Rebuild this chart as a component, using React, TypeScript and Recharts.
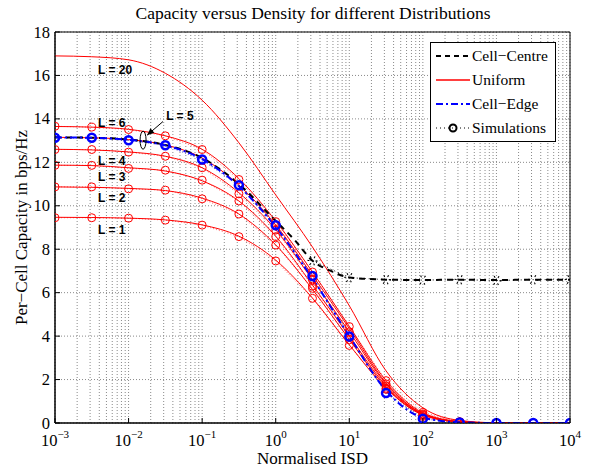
import React from 'react';
import {
  LineChart,
  Line,
  XAxis,
  YAxis,
  CartesianGrid,
  ReferenceDot,
  ReferenceLine,
  ReferenceArea,
  Legend,
} from 'recharts';

// ---------- data ----------
const isd = [0.001, 0.00316, 0.01, 0.0316, 0.1, 0.316, 1, 3.16, 10, 31.6, 100, 316, 1000, 3162, 10000];

// Uniform distribution (theory), per L
const capL1 = [9.47, 9.46, 9.43, 9.35, 9.12, 8.6, 7.5, 5.75, 3.6, 1.6, 0.37, 0.05, 0.0, 0, 0];
const capL2 = [10.87, 10.85, 10.8, 10.7, 10.35, 9.62, 8.2, 6.15, 3.85, 1.65, 0.38, 0.05, 0, 0, 0];
const capL3 = [11.87, 11.85, 11.75, 11.6, 11.15, 10.22, 8.6, 6.35, 4.0, 1.72, 0.4, 0.05, 0, 0, 0];
const capL4 = [12.6, 12.57, 12.48, 12.28, 11.75, 10.6, 8.9, 6.6, 4.2, 1.8, 0.42, 0.06, 0, 0, 0];
const capL5 = [13.15, 13.13, 13.05, 12.8, 12.2, 10.95, 9.12, 6.8, 4.35, 1.85, 0.43, 0.06, 0, 0, 0];
const capL6 = [13.65, 13.62, 13.52, 13.22, 12.6, 11.25, 9.3, 6.95, 4.45, 1.95, 0.47, 0.07, 0, 0, 0];
const capL20 = [16.9, 16.86, 16.72, 16.1, 14.86, 12.9, 10.5, 8.1, 5.4, 2.4, 0.7, 0.12, 0.01, 0, 0];

// Cell-Edge (theory)
const capEdge = [13.15, 13.13, 13.04, 12.78, 12.15, 10.9, 9.02, 6.65, 4.0, 1.5, 0.25, 0.03, 0, 0, 0];

// Cell-Centre (theory)
const centreIsd = [0.001, 0.00316, 0.01, 0.0316, 0.1, 0.316, 1, 1.78, 3.16, 5.62, 10, 31.6, 100, 316, 1000, 3162, 10000];
const capCentre = [13.15, 13.13, 13.05, 12.8, 12.2, 11.0, 9.3, 8.45, 7.47, 7.0, 6.7, 6.6, 6.58, 6.6, 6.58, 6.6, 6.6];

// Simulations
const simL1 = [9.45, 9.45, 9.43, 9.34, 9.11, 8.58, 7.46, 5.74, 3.57, 1.55, 0.3, 0.03, 0, 0, 0];
const simL2 = [10.87, 10.87, 10.78, 10.72, 10.32, 9.62, 8.19, 6.2, 3.83, 1.6, 0.35, 0.04, 0, 0, 0];
const simL3 = [11.86, 11.86, 11.72, 11.64, 11.18, 10.22, 8.58, 6.3, 3.98, 1.7, 0.38, 0.04, 0, 0, 0];
const simL4 = [12.59, 12.59, 12.47, 12.28, 11.75, 10.55, 8.88, 6.59, 4.2, 1.8, 0.42, 0.05, 0, 0, 0];
const simL6 = [13.66, 13.62, 13.51, 13.22, 12.59, 11.21, 9.27, 6.95, 4.44, 1.95, 0.49, 0.06, 0, 0, 0];
const simEdge = [13.13, 13.13, 13.02, 12.79, 12.13, 10.95, 9.1, 6.77, 3.98, 1.38, 0.2, 0.02, 0, 0, 0];
const simCentreIsd = [3.16, 10, 31.6, 100, 316, 1000, 3162, 10000];
const simCentre = [7.47, 6.69, 6.6, 6.58, 6.6, 6.56, 6.6, 6.6];

// ticks
const xTicks = [0.001, 0.01, 0.1, 1, 10, 100, 1000, 10000];
const xTickExp = ['\u22123', '\u22122', '\u22121', '0', '1', '2', '3', '4'];
const yTicks = [0, 2, 4, 6, 8, 10, 12, 14, 16, 18];

// annotations
const curveLabels = [
  { text: 'L = 20', x: 0.00385, y: 16.28 },
  { text: 'L = 6', x: 0.00385, y: 13.85 },
  { text: 'L = 5', x: 0.0324, y: 14.17 },
  { text: 'L = 4', x: 0.00385, y: 12.1 },
  { text: 'L = 3', x: 0.00385, y: 11.37 },
  { text: 'L = 2', x: 0.00385, y: 10.36 },
  { text: 'L = 1', x: 0.00385, y: 8.93 },
];
const arrowTail = { x: 0.0294, y: 13.88 };
const arrowHead = { x: 0.01786, y: 13.25 };
const ellipseAt = { x: 0.01574, y: 13.02 };

// ---------- helpers ----------
const toPts = (xs: number[], ys: number[]) => xs.map((x, i) => ({ x, y: ys[i] }));

const gridX: number[] = [];
for (let k = -3; k <= 3; k++) {
  for (let m = 1; m <= 9; m++) gridX.push(Number((m * Math.pow(10, k)).toPrecision(3)));
}
gridX.push(10000);

const SERIF = '"Liberation Serif", "Times New Roman", serif';
const SANS = '"Liberation Sans", Arial, sans-serif';
const X_MARGIN = 10;
const Y_MARGIN = 5;

const XTick = (props: any) => {
  const { x, y, payload } = props;
  const i = xTicks.indexOf(payload.value);
  return (
    <g>
      <line x1={x} x2={x} y1={y - X_MARGIN} y2={y - X_MARGIN - 5} stroke="#000" />
      <text x={x} y={y + 13} textAnchor="middle" style={{ fontFamily: SERIF }} fontSize={16.5} fill="#000">
        <tspan>10</tspan>
        <tspan dy={-8} fontSize={11}>{xTickExp[i]}</tspan>
      </text>
    </g>
  );
};

const YTick = (props: any) => {
  const { x, y, payload } = props;
  return (
    <g>
      <line x1={x + Y_MARGIN} x2={x + Y_MARGIN + 5} y1={y} y2={y} stroke="#000" />
      <text x={x} y={y + 5.5} textAnchor="end" style={{ fontFamily: SERIF }} fontSize={16.5} fill="#000">
        {payload.value}
      </text>
    </g>
  );
};

const LegendBox = () => {
  const rows = [14, 38, 62, 86];
  return (
    <svg width={126} height={100} style={{ display: 'block' }}>
      <rect x={0.5} y={0.5} width={125} height={99} fill="#fff" stroke="#000" strokeWidth={1} />
      <line x1={6} x2={40} y1={rows[0]} y2={rows[0]} stroke="#000" strokeWidth={2} strokeDasharray="5 4" />
      <line x1={6} x2={40} y1={rows[1]} y2={rows[1]} stroke="#ff0000" strokeWidth={1.5} />
      <line x1={6} x2={40} y1={rows[2]} y2={rows[2]} stroke="#0000ff" strokeWidth={2} strokeDasharray="7 3 2 3" />
      <line x1={6} x2={40} y1={rows[3]} y2={rows[3]} stroke="#000" strokeWidth={1} strokeDasharray="1 3" />
      <circle cx={23} cy={rows[3]} r={3.5} fill="none" stroke="#000" strokeWidth={2} />
      {['Cell\u2212Centre', 'Uniform', 'Cell\u2212Edge', 'Simulations'].map((t, i) => (
        <text key={t} x={42} y={rows[i] + 5} style={{ fontFamily: SERIF }} fontSize={15.5} fill="#000">
          {t}
        </text>
      ))}
    </svg>
  );
};

const redTheory = [capL1, capL2, capL3, capL4, capL5, capL6, capL20];
const redSims = [simL1, simL2, simL3, simL4, simL6];

export default function App() {
  return (
    <div style={{ position: 'absolute', left: 0, top: 0, width: 593, height: 470, background: '#fff' }}>
      <LineChart width={593} height={470} margin={{ top: 32, right: 23, bottom: 7, left: 5 }}>
        <CartesianGrid
          verticalValues={gridX}
          horizontalValues={yTicks}
          stroke="#8a8a8a"
          strokeDasharray="1 2"
          strokeWidth={1}
        />
        <XAxis
          dataKey="x"
          type="number"
          scale="log"
          domain={[0.001, 10000]}
          ticks={xTicks}
          interval={0}
          allowDataOverflow
          tick={<XTick />}
          tickLine={false}
          tickSize={0}
          tickMargin={X_MARGIN}
          axisLine={{ stroke: '#000' }}
          height={40}
          label={{
            value: 'Normalised ISD',
            position: 'insideBottom',
            offset: -1,
            style: { fontFamily: SERIF, fontSize: 17, fill: '#000' },
          }}
        />
        <YAxis
          type="number"
          domain={[0, 18]}
          ticks={yTicks}
          interval={0}
          allowDataOverflow
          tick={<YTick />}
          tickLine={false}
          tickSize={0}
          tickMargin={Y_MARGIN}
          axisLine={{ stroke: '#000' }}
          width={50}
          label={{
            value: 'Per\u2212Cell Capacity in bps/Hz',
            angle: -90,
            position: 'insideLeft',
            offset: 15.5,
            style: { fontFamily: SERIF, fontSize: 17, fill: '#000', textAnchor: 'middle' },
          }}
        />
        <ReferenceArea x1={0.001} x2={10000} y1={0} y2={18} fill="none" stroke="#000" strokeWidth={1} />

        {redSims.map((s, i) => (
          <Line
            key={'simline' + i}
            data={toPts(isd, s)}
            dataKey="y"
            type="linear"
            stroke="#ff7070"
            strokeWidth={1}
            strokeDasharray="1 2"
            dot={false}
            isAnimationActive={false}
            legendType="none"
          />
        ))}
        <Line
          data={toPts(isd, simEdge)}
          dataKey="y"
          type="linear"
          stroke="#6a5acd"
          strokeWidth={1.5}
          strokeDasharray="1 2"
          dot={false}
          isAnimationActive={false}
        />

        {redTheory.map((s, i) => (
          <Line
            key={'theory' + i}
            data={toPts(isd, s)}
            dataKey="y"
            type="monotone"
            stroke="#ff0000"
            strokeWidth={1}
            dot={false}
            isAnimationActive={false}
          />
        ))}

        <Line
          data={toPts(centreIsd, capCentre)}
          dataKey="y"
          type="monotone"
          stroke="#000"
          strokeWidth={2}
          strokeDasharray="6 5"
          dot={false}
          isAnimationActive={false}
        />
        <Line
          data={toPts(isd, capEdge)}
          dataKey="y"
          type="monotone"
          stroke="#0000ff"
          strokeWidth={2}
          strokeDasharray="7 3 2 3"
          dot={false}
          isAnimationActive={false}
        />

        <Line
          data={toPts(simCentreIsd, simCentre)}
          dataKey="y"
          type="linear"
          stroke="#000"
          strokeWidth={1}
          strokeDasharray="1 3"
          dot={{ r: 4, stroke: '#000', strokeWidth: 2, fill: 'none' }}
          isAnimationActive={false}
        />
        {redSims.map((s, i) => (
          <Line
            key={'simdot' + i}
            data={toPts(isd, s)}
            dataKey="y"
            type="linear"
            stroke="none"
            dot={{ r: 4, stroke: '#ff0000', strokeWidth: 1, fill: 'none' }}
            isAnimationActive={false}
          />
        ))}
        <Line
          data={toPts(isd, simEdge)}
          dataKey="y"
          type="linear"
          stroke="none"
          dot={{ r: 4, stroke: '#0000ff', strokeWidth: 2.5, fill: 'none' }}
          isAnimationActive={false}
        />

        {curveLabels.map((l) => (
          <ReferenceDot
            key={l.text}
            x={l.x}
            y={l.y}
            r={0}
            shape={(p: any) => (
              <text
                x={p.cx}
                y={p.cy + 4.5}
                style={{ fontFamily: SANS }}
                fontWeight="bold"
                fontSize={12}
                fill="#000"
              >
                {l.text}
              </text>
            )}
          />
        ))}
        <ReferenceLine segment={[arrowTail, arrowHead]} stroke="#000" strokeWidth={1} />
        <ReferenceDot
          x={arrowHead.x}
          y={arrowHead.y}
          r={0}
          shape={(p: any) => {
            const ux = -0.753;
            const uy = 0.659;
            const bx = p.cx - 7 * ux;
            const by = p.cy - 7 * uy;
            const px = -uy * 3;
            const py = ux * 3;
            return (
              <polygon
                points={`${p.cx},${p.cy} ${bx + px},${by + py} ${bx - px},${by - py}`}
                fill="#000"
              />
            );
          }}
        />
        <ReferenceDot
          x={ellipseAt.x}
          y={ellipseAt.y}
          r={0}
          shape={(p: any) => (
            <ellipse cx={p.cx} cy={p.cy} rx={3} ry={9} fill="none" stroke="#000" strokeWidth={1} />
          )}
        />

        <Legend
          layout="vertical"
          align="center"
          verticalAlign="middle"
          content={() => <LegendBox />}
          wrapperStyle={{ position: 'absolute', left: 430, top: 42, width: 126, height: 100 }}
        />
      </LineChart>
      <svg
        width={593}
        height={28}
        style={{ position: 'absolute', left: 0, top: 0, pointerEvents: 'none' }}
      >
        <text x={313} y={18.5} textAnchor="middle" style={{ fontFamily: SERIF }} fontSize={17.5} fill="#000">
          Capacity versus Density for different Distributions
        </text>
      </svg>
    </div>
  );
}
